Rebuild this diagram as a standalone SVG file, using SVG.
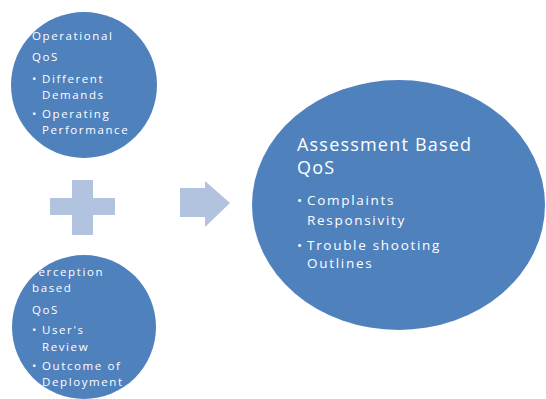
<svg xmlns="http://www.w3.org/2000/svg" width="546" height="399" viewBox="0 0 546 399">
  <style>
    .circle { fill: #4F81BD; }
    .sym { fill: #B1C3DF; }
    text { fill: #FFFFFF; font-family: "Open Sans", "Liberation Sans", Arial, sans-serif; }
    .s { font-size: 11.5px; letter-spacing: 1.6px; }
    .l { font-size: 18px; letter-spacing: 1.2px; }
    .m { font-size: 13.5px; letter-spacing: 1.7px; }
  </style>
  <rect width="546" height="399" fill="#FFFFFF"/>

  <!-- Operational QoS -->
  <g id="operational">
    <circle class="circle" cx="84" cy="85" r="73"/>
    <text class="s" x="32" y="40">Operational</text>
    <text class="s" x="32" y="61">QoS</text>
    <text class="s" x="32" y="83">•</text>
    <text class="s" x="42" y="83">Different</text>
    <text class="s" x="42" y="99">Demands</text>
    <text class="s" x="32" y="118">•</text>
    <text class="s" x="42" y="118">Operating</text>
    <text class="s" x="42" y="133.5">Performance</text>
  </g>

  <!-- Perception based QoS -->
  <g id="perception">
    <circle class="circle" cx="84" cy="327" r="72"/>
    <text class="s" x="30" y="276">Perception</text>
    <text class="s" x="32" y="292">based</text>
    <text class="s" x="32" y="314">QoS</text>
    <text class="s" x="32" y="334">•</text>
    <text class="s" x="42" y="334">User's</text>
    <text class="s" x="42" y="351">Review</text>
    <text class="s" x="32" y="369.5">•</text>
    <text class="s" x="42" y="369.5">Outcome of</text>
    <text class="s" x="42" y="385.5">Deployment</text>
  </g>

  <!-- Assessment Based QoS -->
  <g id="assessment">
    <ellipse class="circle" cx="398.5" cy="205" rx="146.5" ry="125"/>
    <text class="l" x="297" y="151">Assessment Based</text>
    <text class="l" x="297" y="174">QoS</text>
    <text class="m" x="297" y="205">•</text>
    <text class="m" x="307" y="205">Complaints</text>
    <text class="m" x="307" y="225">Responsivity</text>
    <text class="m" x="297" y="249.5">•</text>
    <text class="m" x="307" y="249.5">Trouble shooting</text>
    <text class="m" x="307" y="267.5">Outlines</text>
  </g>

  <!-- plus and arrow symbols -->
  <g id="connectors">
    <path class="sym" d="M72 180 H93 V198 H115 V215 H93 V235 H72 V215 H50 V198 H72 Z"/>
    <path class="sym" d="M180 188 H205 V181 L230 203 L205 227 V217 H180 Z"/>
  </g>
</svg>
